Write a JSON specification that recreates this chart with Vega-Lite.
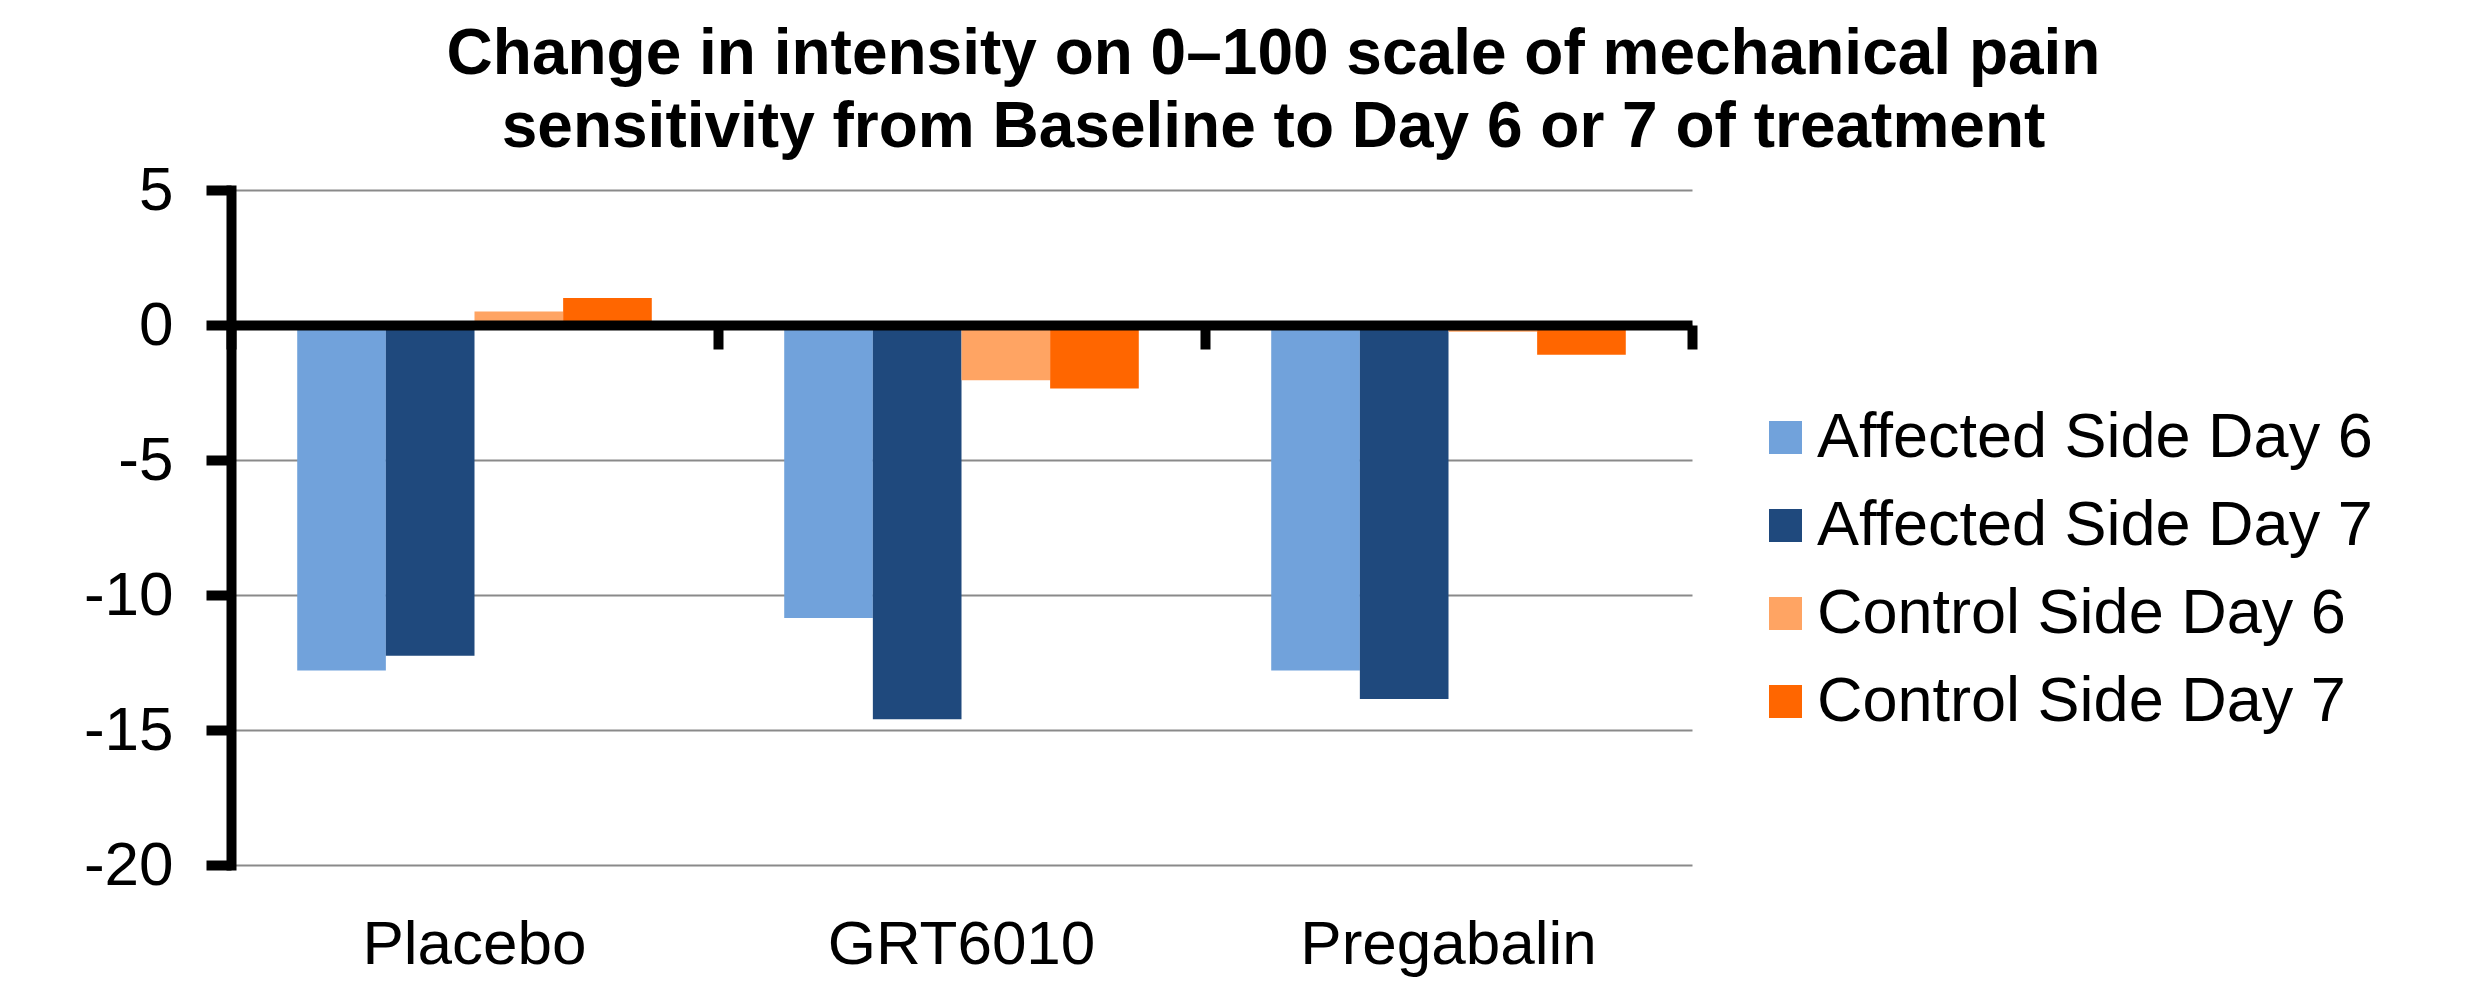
{
  "$schema": "https://vega.github.io/schema/vega-lite/v6.json",
  "autosize": {"type": "none"},
  "width": 1461,
  "height": 675,
  "padding": {"left": 231, "top": 190, "right": 781, "bottom": 129},
  "background": "white",
  "title": {
    "text": ["Change in intensity on 0–100 scale of mechanical pain", "sensitivity from Baseline to Day 6 or 7 of treatment"],
    "font": "Liberation Sans",
    "fontSize": 64,
    "fontWeight": "bold",
    "color": "black",
    "anchor": "middle",
    "frame": "group",
    "baseline": "alphabetic",
    "lineHeight": 73,
    "dx": 312,
    "offset": -52
  },
  "data": {
    "values": [
      {"treatment": "Placebo", "series": "Affected Side Day 6", "change": -12.8},
      {"treatment": "Placebo", "series": "Affected Side Day 7", "change": -12.25},
      {"treatment": "Placebo", "series": "Control Side Day 6", "change": 0.5},
      {"treatment": "Placebo", "series": "Control Side Day 7", "change": 1.0},
      {"treatment": "GRT6010", "series": "Affected Side Day 6", "change": -10.85},
      {"treatment": "GRT6010", "series": "Affected Side Day 7", "change": -14.6},
      {"treatment": "GRT6010", "series": "Control Side Day 6", "change": -2.05},
      {"treatment": "GRT6010", "series": "Control Side Day 7", "change": -2.35},
      {"treatment": "Pregabalin", "series": "Affected Side Day 6", "change": -12.8},
      {"treatment": "Pregabalin", "series": "Affected Side Day 7", "change": -13.85},
      {"treatment": "Pregabalin", "series": "Control Side Day 6", "change": -0.25},
      {"treatment": "Pregabalin", "series": "Control Side Day 7", "change": -1.1}
    ]
  },
  "resolve": {"axis": {"x": "independent"}},
  "layer": [
    {
      "mark": {"type": "bar"},
      "encoding": {
        "x": {
          "field": "treatment",
          "type": "nominal",
          "sort": ["Placebo", "GRT6010", "Pregabalin"],
          "scale": {"paddingInner": 0, "paddingOuter": 0},
          "axis": {
            "title": null,
            "domain": false,
            "ticks": false,
            "grid": false,
            "labelAngle": 0,
            "labelFont": "Liberation Sans",
            "labelFontSize": 62,
            "labelColor": "black",
            "labelBaseline": "alphabetic",
            "labelPadding": 98,
            "labelLimit": 0,
            "zindex": 1
          }
        },
        "xOffset": {
          "field": "series",
          "type": "nominal",
          "sort": ["Affected Side Day 6", "Affected Side Day 7", "Control Side Day 6", "Control Side Day 7"],
          "scale": {"paddingInner": 0, "paddingOuter": 0.747}
        },
        "y": {
          "field": "change",
          "type": "quantitative",
          "scale": {"domain": [-20, 5], "nice": false, "zero": false},
          "axis": {
            "title": null,
            "values": [5, 0, -5, -10, -15, -20],
            "labelExpr": "datum.value",
            "grid": true,
            "gridColor": "#8a8a8a",
            "gridWidth": 2,
            "domain": true,
            "domainColor": "black",
            "domainWidth": 10,
            "domainCap": "square",
            "ticks": true,
            "tickColor": "black",
            "tickWidth": 10,
            "tickSize": 25,
            "labelFont": "Liberation Sans",
            "labelFontSize": 62,
            "labelColor": "black",
            "labelPadding": 33,
            "zindex": 0
          }
        },
        "color": {
          "field": "series",
          "type": "nominal",
          "sort": ["Affected Side Day 6", "Affected Side Day 7", "Control Side Day 6", "Control Side Day 7"],
          "scale": {
            "domain": ["Affected Side Day 6", "Affected Side Day 7", "Control Side Day 6", "Control Side Day 7"],
            "range": ["#71A2DB", "#1F497D", "#FFA463", "#FF6600"]
          },
          "legend": {
            "title": null,
            "orient": "none",
            "legendX": 1523,
            "legendY": 216,
            "symbolType": "square",
            "symbolSize": 1089,
            "symbolStrokeWidth": 0,
            "labelFont": "Liberation Sans",
            "labelFontSize": 63,
            "labelColor": "black",
            "labelOffset": 0,
            "labelLimit": 0,
            "rowPadding": 24
          }
        }
      }
    },
    {
      "mark": {"type": "bar", "opacity": 0},
      "encoding": {
        "x": {
          "field": "treatment",
          "type": "nominal",
          "sort": ["Placebo", "GRT6010", "Pregabalin"],
          "axis": {
            "orient": "top",
            "title": null,
            "labels": false,
            "grid": false,
            "offset": -135,
            "domain": true,
            "domainColor": "black",
            "domainWidth": 10,
            "ticks": true,
            "tickBand": "extent",
            "tickColor": "black",
            "tickWidth": 10,
            "tickSize": -24,
            "zindex": 2
          }
        },
        "y": {"field": "change", "type": "quantitative"}
      }
    }
  ],
  "config": {
    "view": {"stroke": null}
  }
}
